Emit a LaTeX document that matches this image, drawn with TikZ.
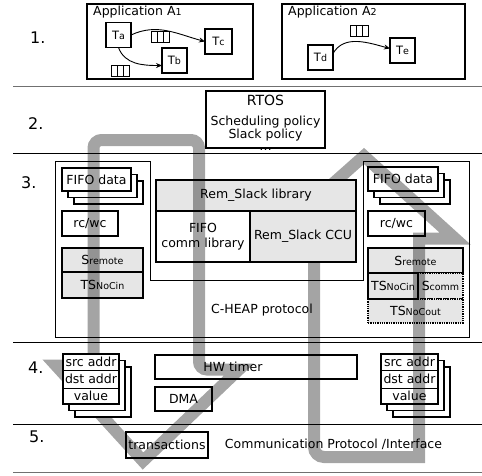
\documentclass[tikz,border=0pt]{standalone}
\usepackage{fontspec}
\setmainfont{DejaVu Sans}
\usepackage{xcolor}
\usepackage{tikz}
\usetikzlibrary{arrows.meta,positioning,shadows,calc}
\definecolor{ink}{HTML}{000000}
\definecolor{flowgray}{HTML}{A4A4A4}
\definecolor{boxgray}{HTML}{E6E6E6}
\definecolor{sepgray}{HTML}{707070}
\newcommand{\lowpart}[1]{{\fontsize{9.5}{9.5}\selectfont #1}}

\begin{document}
\begin{tikzpicture}[
  x=1pt, y=-1pt,
  font=\fontsize{12.5}{13.5}\selectfont,
  task/.style={draw=ink, line width=1.4pt, minimum width=25pt,
    minimum height=25pt, inner sep=0pt, outer sep=0pt, fill=white,
    font=\fontsize{11.5}{12}\selectfont},
  appbox/.style={draw=ink, line width=1.4pt, inner sep=0pt, outer sep=0pt},
  fifo/.style={draw=ink, line width=0.9pt, minimum width=18pt,
    minimum height=11pt, inner sep=0pt, outer sep=0pt, fill=white,
    path picture={\foreach \k in {1,2}
      \draw[line width=0.9pt]
        ($(path picture bounding box.north west)!\k/3!(path picture bounding box.north east)$)
        -- ($(path picture bounding box.south west)!\k/3!(path picture bounding box.south east)$);}},
  flowline/.style={-{Stealth[length=6pt, width=5pt]}, line width=0.9pt, draw=ink},
  unitbox/.style={draw=ink, line width=1.3pt, fill=white, inner sep=0pt, outer sep=0pt},
  graybox/.style={unitbox, fill=boxgray},
  dotbox/.style={graybox, densely dotted},
  stackbox/.style={unitbox, double copy shadow={shadow xshift=6pt,
    shadow yshift=-6.5pt, draw=ink, fill=white, line width=1.3pt}},
  rowcell/.style={draw=ink, line width=1pt, inner sep=0pt, outer sep=0pt},
  layernum/.style={anchor=west, inner sep=0pt, font=\fontsize{16}{16}\selectfont},
  bigflow/.style={draw=flowgray, line width=12pt},
]
  \useasboundingbox (0,0) rectangle (482,475);

  % layer separators and numbers
  \foreach \yy/\cc in {86/sepgray,153/ink,342/ink,424/ink,472/sepgray}
    \draw[line width=0.9pt, draw=\cc] (13,\yy) -- (482,\yy);
  \node[layernum] (n1) at (30,38) {1.};
  \node[layernum] (n2) at (28,124) {2.};
  \node[layernum] (n3) at (21,183) {3.};
  \node[layernum] (n4) at (28,368) {4.};
  \node[layernum] (n5) at (29,437) {5.};

  % layer 1: applications
  \node[appbox, minimum width=166pt, minimum height=75pt,
    label={[anchor=north west, inner sep=0pt, xshift=6pt, yshift=-2pt]north west:Application A\lowpart{1}}]
    (appA) at (170,41.5) {};
  \node[appbox, minimum width=183pt, minimum height=75pt,
    label={[anchor=north west, inner sep=0pt, xshift=6pt, yshift=-2pt]north west:Application A\lowpart{2}}]
    (appB) at (373.5,41.5) {};
  \node[task] (Ta) at (118.5,35) {T\lowpart{a}};
  \node[task, minimum width=27pt] (Tc) at (218.5,41.5) {T\lowpart{c}};
  \node[task] (Tb) at (174.5,60.5) {T\lowpart{b}};
  \node[task] (Td) at (320.5,57.5) {T\lowpart{d}};
  \node[task] (Te) at (402.5,50.5) {T\lowpart{e}};
  \node[fifo] (qac) at (160.5,37) {};
  \node[fifo] (qab) at (120.5,71) {};
  \node[fifo] (qde) at (359,31) {};
  \draw[flowline] (Ta.east) to[out=25, in=165] (Tc.west);
  \draw[flowline] (Ta.south) to[out=-70, in=180] ([yshift=-5pt]Tb.west);
  \draw[flowline] ([yshift=4pt]Td.east) to[out=60, in=165] ([yshift=2pt]Te.west);

  % layer 2: RTOS
  \node[appbox, minimum width=119pt, minimum height=57pt] (rtos) at (265.5,119.5) {};
  \node[anchor=north, align=center, inner sep=0pt, font=\fontsize{12.5}{11.5}\selectfont]
    (rtostxt) at ([yshift=-4pt]rtos.north)
    {{\fontsize{14}{14}\selectfont RTOS}\\[8pt]Scheduling policy\\Slack policy\\[1pt]\ldots};

  % layer 3: C-HEAP
  \draw[line width=0.8pt, draw=ink] (55,161) -- (150,161) -- (150,280) -- (363,280)
    -- (363,161) -- (469,161) -- (469,337) -- (55,337) -- cycle;
  \node[stackbox, minimum width=69pt, minimum height=23pt] (fifoL) at (96.5,179.5) {FIFO data};
  \node[unitbox, minimum width=56pt, minimum height=25pt] (rcL) at (90,223.5) {rc/wc};
  \node[graybox, minimum width=81pt, minimum height=24pt] (sremL) at (102.5,260) {S\lowpart{remote}};
  \node[graybox, minimum width=81pt, minimum height=26pt, below=0pt of sremL] (tsinL) {TS\lowpart{NoCin}};

  \node[stackbox, minimum width=70pt, minimum height=24pt] (fifoR) at (403,179) {FIFO data};
  \node[unitbox, minimum width=57pt, minimum height=25pt] (rcR) at (396.5,223.5) {rc/wc};
  \node[graybox, minimum width=95pt, minimum height=25pt] (sremR) at (415.5,260.5) {S\lowpart{remote}};
  \node[dotbox, minimum width=45pt, minimum height=26pt, anchor=north east]
    (scommR) at (sremR.south east) {S\lowpart{comm}};
  \node[dotbox, minimum width=95pt, minimum height=24pt, anchor=north west]
    (tsoutR) at ([yshift=-26pt]sremR.south west) {TS\lowpart{NoCout}};
  \node[graybox, minimum width=50pt, minimum height=26pt, anchor=north west]
    (tsinR) at (sremR.south west) {TS\lowpart{NoCin}};
  \node (cheap) at (262,310) {C-HEAP protocol};

  % layer 4 and 5
  \node[stackbox, minimum width=57pt, minimum height=50pt] (stackR) at (409.5,379) {};
  \node[rowcell, minimum width=57pt, minimum height=16pt, anchor=north] (srcR) at (stackR.north) {src addr};
  \node[rowcell, minimum width=57pt, minimum height=18pt, below=0pt of srcR] (dstR) {dst addr};
  \node[rowcell, minimum width=57pt, minimum height=16pt, below=0pt of dstR] (valR) {value};
  \node[unitbox, minimum width=202pt, minimum height=24pt,
    label={[xshift=-23pt]center:HW timer}] (hwtimer) at (256,367) {};
  \node[unitbox, minimum width=57pt, minimum height=24pt] (dma) at (183.5,399) {DMA};
  \node[unitbox, minimum width=82pt, minimum height=26pt] (trans) at (167,445) {transactions};
  \node (commif) at (333.5,444) {Communication Protocol /Interface};

  % upward flow
  \begin{scope}[blend mode=multiply]
    \draw[bigflow] (314,238.5) -- (271,238.5) -- (364,156) -- (455,238.5) -- (419,238.5)
      -- (419,457) [rounded corners=10pt] -- (314,457) -- cycle;
  \end{scope}

  % Rem_Slack
  \node[graybox, minimum width=200pt, minimum height=31pt] (remlib) at (256,195.5) {Rem\_Slack library};
  \node[unitbox, minimum width=94pt, minimum height=51pt, align=center, anchor=north west]
    (fifocomm) at (remlib.south west) {FIFO\\[2pt]comm library};
  \node[graybox, minimum width=106pt, minimum height=51pt, anchor=north east]
    (ccu) at (remlib.south east) {Rem\_Slack CCU};

  % downward flow
  \begin{scope}[blend mode=multiply]
    \draw[bigflow] (93.5,365.5) [rounded corners=8pt] -- (93.5,140) -- (199,140)
      -- (199,369.5) [sharp corners] -- (239,369.5) -- (143,461) -- (56,365.5) -- cycle;
  \end{scope}

  \node[stackbox, minimum width=56pt, minimum height=50pt] (stackL) at (91,379) {};
  \node[rowcell, minimum width=56pt, minimum height=16pt, anchor=north] (srcL) at (stackL.north) {src addr};
  \node[rowcell, minimum width=56pt, minimum height=18pt, below=0pt of srcL] (dstL) {dst addr};
  \node[rowcell, minimum width=56pt, minimum height=16pt, below=0pt of dstL] (valL) {value};
\end{tikzpicture}
\end{document}
